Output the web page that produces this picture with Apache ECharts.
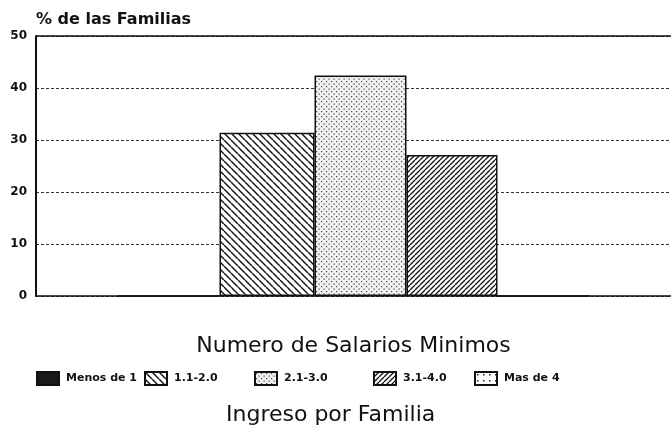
<!DOCTYPE html>
<html>
<head>
<meta charset="utf-8">
<script src="https://cdn.jsdelivr.net/npm/echarts@6/dist/echarts.min.js"></script>
<style>
  html, body { margin: 0; padding: 0; background: #fff; }
  #chart { width: 671px; height: 432px; }
</style>
</head>
<body>
<div id="chart"></div>
<script>
// Income brackets (number of minimum wages) and share of families in each
const brackets = ['Menos de 1', '1.1-2.0', '2.1-3.0', '3.1-4.0', 'Mas de 4'];
const shares = [0, 31.4, 42.4, 27.1, 0];
const yTicks = [0, 10, 20, 30, 40, 50];

// Hatch / dot fills built on small canvases
function tile(w, h, draw) {
  const c = document.createElement('canvas');
  c.width = w; c.height = h;
  const g = c.getContext('2d');
  g.fillStyle = '#fff';
  g.fillRect(0, 0, w, h);
  draw(g, w, h);
  return { image: c, repeat: 'repeat' };
}
function diag(step, dir, lw) {
  return tile(step, step, (g, w, h) => {
    g.strokeStyle = '#111';
    g.lineWidth = lw;
    g.beginPath();
    for (let k = -1; k <= 1; k++) {
      if (dir > 0) { g.moveTo(k * w, h); g.lineTo(k * w + w, 0); }
      else { g.moveTo(k * w, 0); g.lineTo(k * w + w, h); }
    }
    g.stroke();
  });
}
const fills = [
  '#1a1a1a',
  diag(7, -1, 1.4),
  tile(5, 5, (g) => {
    g.fillStyle = '#f1f1f1'; g.fillRect(0, 0, 5, 5);
    g.fillStyle = '#444'; g.fillRect(1, 1, 1.2, 1.2);
    g.fillRect(3.5, 3.5, 1.2, 1.2);
  }),
  diag(5, 1, 1.3),
  tile(6, 6, (g) => { g.fillStyle = '#222'; g.fillRect(2, 2, 1.5, 1.5); })
];
// slot widths of the bars side by side (the first slot is wider, pushing the group right)
const slotWidths = [102, 95, 92, 91, 92];

const legendLeft = [36, 144, 254, 373, 474];

const chart = echarts.init(document.getElementById('chart'), null, { renderer: 'canvas' });
chart.setOption({
  animation: false,
  backgroundColor: '#fff',
  textStyle: { fontFamily: 'DejaVu Sans' },
  grid: { left: 36, top: 36, right: 0, bottom: 136 },
  xAxis: {
    type: 'category',
    data: [''],
    name: 'Numero de Salarios Minimos',
    nameLocation: 'middle',
    nameGap: 39,
    nameTextStyle: { fontSize: 22, color: '#111', fontFamily: 'DejaVu Sans' },
    axisLine: { lineStyle: { color: '#111', width: 1.5 } },
    axisTick: { show: false },
    axisLabel: { show: false }
  },
  yAxis: {
    type: 'value',
    min: yTicks[0],
    max: yTicks[yTicks.length - 1],
    interval: 10,
    name: '% de las Familias',
    nameLocation: 'end',
    nameGap: 8,
    nameTextStyle: { fontSize: 16, fontWeight: 'bold', color: '#111', align: 'left' },
    axisLine: { show: true, lineStyle: { color: '#111', width: 2 } },
    axisTick: { show: false },
    axisLabel: { fontSize: 12, fontWeight: 'bold', color: '#111', margin: 9 },
    splitLine: { lineStyle: { color: '#333', type: [3, 2], width: 1 } }
  },
  title: {
    text: 'Ingreso por Familia',
    left: 226,
    top: 404,
    padding: 0,
    textStyle: { fontSize: 22, fontWeight: 'normal', color: '#111', fontFamily: 'DejaVu Sans' }
  },
  legend: brackets.map((b, i) => ({
    data: [{ name: b, icon: 'rect' }],
    left: legendLeft[i],
    top: 371,
    padding: 0,
    itemWidth: 22,
    itemHeight: 13,
    itemGap: 0,
    selectedMode: false,
    textStyle: { fontSize: 11, fontWeight: 'bold', color: '#111', padding: [0, 0, 0, 2] }
  })),
  series: brackets.map((b, i) => ({
    name: b,
    type: 'bar',
    barWidth: slotWidths[i],
    barGap: '0%',
    data: [shares[i]],
    itemStyle: { color: fills[i], borderColor: '#111', borderWidth: 1.5 },
    markLine: i === 0 ? {
      silent: true,
      symbol: 'none',
      label: { show: false },
      lineStyle: { color: '#111', type: 'solid', width: 1.5 },
      data: [{ yAxis: yTicks[yTicks.length - 1] }]
    } : undefined
  }))
});
</script>
</body>
</html>
